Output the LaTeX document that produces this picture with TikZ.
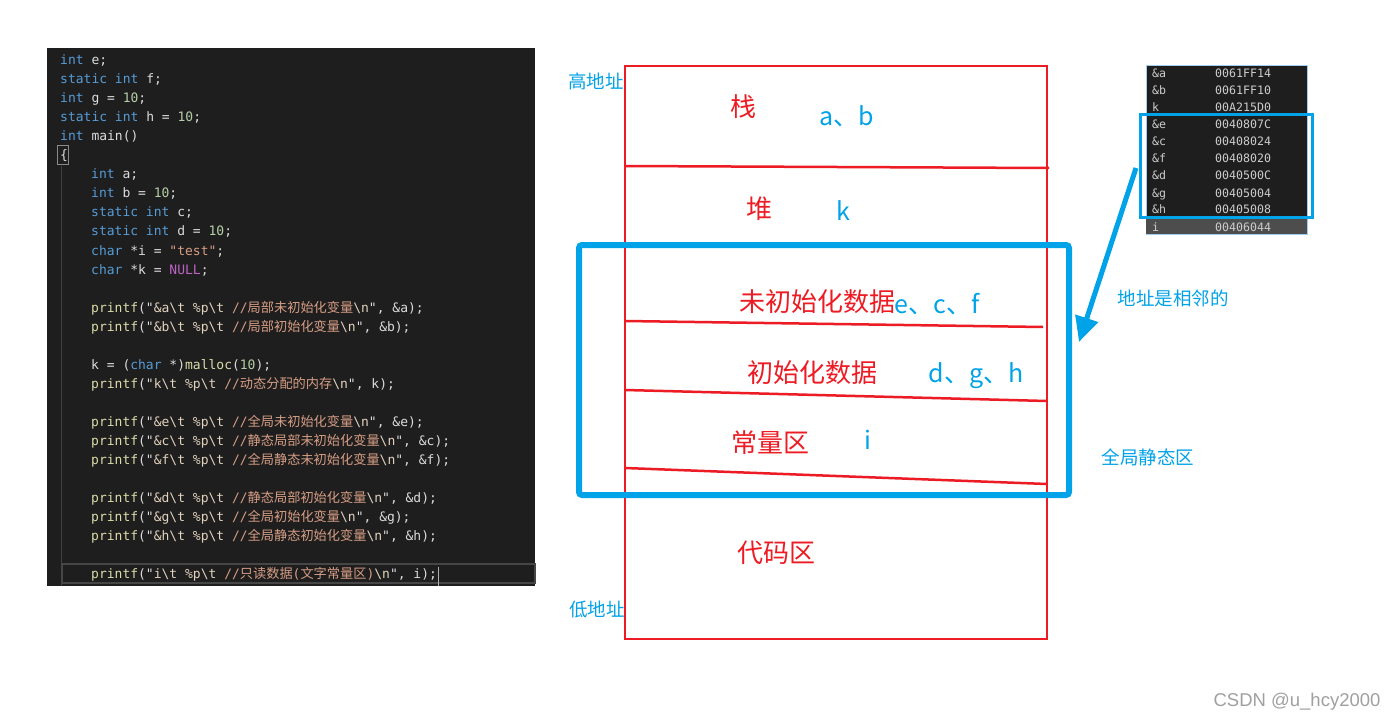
\documentclass[tikz,border=0pt]{standalone}
\usepackage{fontspec}
\usetikzlibrary{arrows.meta}
\newfontfamily\cjk{Noto Sans CJK SC}
\newfontfamily\codefont{DejaVu Sans Mono}
\newfontfamily\wmfont{Liberation Sans}
\definecolor{codebg}{HTML}{1E1E1E}
\definecolor{cdef}{HTML}{DCDCDC}
\definecolor{ckwc}{HTML}{569CD6}
\definecolor{cnumc}{HTML}{B5CEA8}
\definecolor{cfnc}{HTML}{DCDCAA}
\definecolor{cfmtc}{HTML}{E2D2BE}
\definecolor{ccmc}{HTML}{D69D85}
\definecolor{cnullc}{HTML}{BD63C5}
\definecolor{memc}{HTML}{CCCCCC}
\definecolor{myred}{HTML}{ED1C24}
\definecolor{myblue}{HTML}{00A2E8}
\newcommand\ckw[1]{\textcolor{ckwc}{#1}}
\newcommand\cnum[1]{\textcolor{cnumc}{#1}}
\newcommand\cfn[1]{\textcolor{cfnc}{#1}}
\newcommand\cfmt[1]{\textcolor{cfmtc}{#1}}
\newcommand\ccm[1]{\textcolor{ccmc}{#1}}
\newcommand\cnull[1]{\textcolor{cnullc}{#1}}
\newcommand\ccj[1]{{\cjk\fontsize{13.2}{15}\selectfont #1}}
\newcommand\bsl{\textbackslash}
\tikzset{
  codeline/.style={anchor=base west, inner sep=0pt, text=cdef,
    font=\codefont\fontsize{13}{15}\selectfont},
  memtxt/.style={anchor=base west, inner sep=0pt, text=memc,
    font=\codefont\fontsize{11.6}{13}\selectfont},
  redlbl/.style={text=myred, inner sep=0pt, font=\cjk\fontsize{26}{30}\selectfont},
  bluelbl/.style={text=myblue, inner sep=0pt, font=\cjk\fontsize{25}{30}\selectfont},
  smallblue/.style={text=myblue, inner sep=0pt, font=\cjk\fontsize{18.5}{22}\selectfont},
  redline/.style={draw=myred, line width=2.5pt},
}
\begin{document}
\begin{tikzpicture}[x=1pt,y=-1pt]
\useasboundingbox[fill=white] (0,0) rectangle (1397,722);

% ---------- code panel ----------
\fill[codebg] (47,48) rectangle (535,586);
\draw[color={rgb,255:red,64;green,64;blue,64}, line width=1pt] (61,166) -- (61,586);
\draw[color={rgb,255:red,138;green,138;blue,138}, line width=1pt] (57,146) rectangle (68,165);
\draw[color={rgb,255:red,70;green,70;blue,70}, line width=1.5pt] (62,564) rectangle (535,583);

\node[codeline] (l0)  at (60,64.5)  {\ckw{int} e;};
\node[codeline] (l1)  at (60,83.5)  {\ckw{static} \ckw{int} f;};
\node[codeline] (l2)  at (60,102.6) {\ckw{int} g = \cnum{10};};
\node[codeline] (l3)  at (60,121.6) {\ckw{static} \ckw{int} h = \cnum{10};};
\node[codeline] (l4)  at (60,140.7) {\ckw{int} main()};
\node[codeline] (l5)  at (60,159.8) {\{};
\node[codeline] (l6)  at (91,178.8) {\ckw{int} a;};
\node[codeline] (l7)  at (91,197.9) {\ckw{int} b = \cnum{10};};
\node[codeline] (l8)  at (91,216.9) {\ckw{static} \ckw{int} c;};
\node[codeline] (l9)  at (91,236)   {\ckw{static} \ckw{int} d = \cnum{10};};
\node[codeline] (l10) at (91,255)   {\ckw{char} *i = \ccm{"test"};};
\node[codeline] (l11) at (91,274)   {\ckw{char} *k = \cnull{NULL};};
\node[codeline] (l13) at (91,312.2) {\cfn{printf}("\cfmt{\&a\bsl t \%p\bsl t }\ccm{//\ccj{局部未初始化变量}}\cfmt{\bsl n}", \&a);};
\node[codeline] (l14) at (91,331.2) {\cfn{printf}("\cfmt{\&b\bsl t \%p\bsl t }\ccm{//\ccj{局部初始化变量}}\cfmt{\bsl n}", \&b);};
\node[codeline] (l16) at (91,369.3) {k = (\ckw{char} *)\cfn{malloc}(\cnum{10});};
\node[codeline] (l17) at (91,388.4) {\cfn{printf}("\cfmt{k\bsl t \%p\bsl t }\ccm{//\ccj{动态分配的内存}}\cfmt{\bsl n}", k);};
\node[codeline] (l19) at (91,426.5) {\cfn{printf}("\cfmt{\&e\bsl t \%p\bsl t }\ccm{//\ccj{全局未初始化变量}}\cfmt{\bsl n}", \&e);};
\node[codeline] (l20) at (91,445.5) {\cfn{printf}("\cfmt{\&c\bsl t \%p\bsl t }\ccm{//\ccj{静态局部未初始化变量}}\cfmt{\bsl n}", \&c);};
\node[codeline] (l21) at (91,464.6) {\cfn{printf}("\cfmt{\&f\bsl t \%p\bsl t }\ccm{//\ccj{全局静态未初始化变量}}\cfmt{\bsl n}", \&f);};
\node[codeline] (l23) at (91,502.7) {\cfn{printf}("\cfmt{\&d\bsl t \%p\bsl t }\ccm{//\ccj{静态局部初始化变量}}\cfmt{\bsl n}", \&d);};
\node[codeline] (l24) at (91,521.7) {\cfn{printf}("\cfmt{\&g\bsl t \%p\bsl t }\ccm{//\ccj{全局初始化变量}}\cfmt{\bsl n}", \&g);};
\node[codeline] (l25) at (91,540.8) {\cfn{printf}("\cfmt{\&h\bsl t \%p\bsl t }\ccm{//\ccj{全局静态初始化变量}}\cfmt{\bsl n}", \&h);};
\node[codeline] (l27) at (91,578.9) {\cfn{printf}("\cfmt{i\bsl t \%p\bsl t }\ccm{//\ccj{只读数据}(\ccj{文字常量区})}\cfmt{\bsl n}", i);};
\draw[color={rgb,255:red,174;green,175;blue,173}, line width=1.5pt] (l27.north east) ++(1.5,-1) -- ++(0,19);

% ---------- memory layout ----------
\draw[redline] (625,66) rectangle (1047,639);
\draw[redline] (625,166) -- (1049,168);
\draw[redline] (625,243) -- (680,243);
\draw[redline] (625,321) -- (1043,327);
\draw[redline] (625,390) -- (1047,401);
\draw[redline] (625,468) -- (1047,484);
\draw[myblue, line width=6pt, rounded corners=3pt] (579,245) rectangle (1069,495);

\node[redlbl] (zhan)  at (743,107) {栈};
\node[redlbl] (dui)   at (759,209) {堆};
\node[redlbl] (bss)   at (817,302) {未初始化数据};
\node[redlbl] (data)  at (812,373) {初始化数据};
\node[redlbl] (const) at (770,443) {常量区};
\node[redlbl] (text)  at (776,553) {代码区};

\node[bluelbl] (vab)  at (847,116) {a、b};
\node[bluelbl] (vk)   at (843,211) {k};
\node[bluelbl] (vecf) at (937,304) {e、c、f};
\node[bluelbl] (vdgh) at (976,376) {d、g、h};
\node[bluelbl] (vi)   at (868,440) {i};

\node[smallblue] (hi)  at (596,81)   {高地址};
\node[smallblue] (lo)  at (597,610)  {低地址};
\node[smallblue] (adj) at (1173,298) {地址是相邻的};
\node[smallblue] (glb) at (1148,457) {全局静态区};

% ---------- address output ----------
\draw[color={rgb,255:red,160;green,205;blue,238}, line width=1pt, fill=codebg] (1146,66) rectangle (1307,234);
\fill[color={rgb,255:red,77;green,77;blue,77}] (1146,219) rectangle (1307,234);
\node[memtxt] (ma)  at (1152,78)  {\&a};  \node[memtxt] (mav) at (1215,78)  {0061FF14};
\node[memtxt] (mb)  at (1152,95)  {\&b};  \node[memtxt] (mbv) at (1215,95)  {0061FF10};
\node[memtxt] (mk)  at (1152,112) {k};    \node[memtxt] (mkv) at (1215,112) {00A215D0};
\node[memtxt] (me)  at (1152,129) {\&e};  \node[memtxt] (mev) at (1215,129) {0040807C};
\node[memtxt] (mc)  at (1152,146) {\&c};  \node[memtxt] (mcv) at (1215,146) {00408024};
\node[memtxt] (mf)  at (1152,163) {\&f};  \node[memtxt] (mfv) at (1215,163) {00408020};
\node[memtxt] (md)  at (1152,180) {\&d};  \node[memtxt] (mdv) at (1215,180) {0040500C};
\node[memtxt] (mg)  at (1152,197) {\&g};  \node[memtxt] (mgv) at (1215,197) {00405004};
\node[memtxt] (mh)  at (1152,214) {\&h};  \node[memtxt] (mhv) at (1215,214) {00405008};
\node[memtxt] (mi)  at (1152,231) {i};    \node[memtxt] (miv) at (1215,231) {00406044};
\draw[myblue, line width=3pt] (1140,115) rectangle (1312,218);

% ---------- arrow ----------
\coordinate (arrS) at (1136,168);
\coordinate (arrE) at (1079,342);
\draw[myblue, line width=5pt, -{Triangle[width=23pt,length=25pt]}] (arrS) -- (arrE);

% ---------- watermark ----------
\node[text={rgb,255:red,160;green,160;blue,160}, inner sep=0pt, font=\wmfont\fontsize{18.5}{22}\selectfont] (wm) at (1297,702) {CSDN @u\_hcy2000};
\end{tikzpicture}
\end{document}
